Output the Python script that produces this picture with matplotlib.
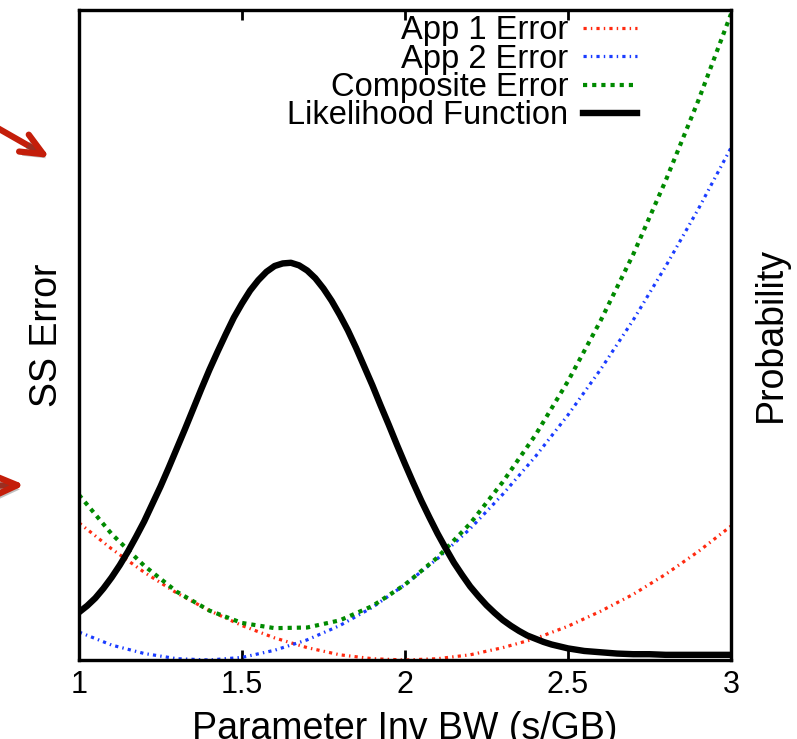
import numpy as np
import matplotlib
matplotlib.use("Agg")
import matplotlib.pyplot as plt
import matplotlib.patheffects as pe

# values (arbitrary units, 0..1 of the axis height)
x_err = [1.0, 1.1, 1.2, 1.3, 1.4, 1.5, 1.6, 1.7, 1.8, 1.9, 2.0,
         2.1, 2.2, 2.3, 2.4, 2.5, 2.6, 2.7, 2.8, 2.9, 3.0]
app1_err = [0.211, 0.171, 0.135, 0.103, 0.076, 0.053, 0.034, 0.019, 0.008, 0.002, 0.000,
            0.002, 0.008, 0.019, 0.033, 0.052, 0.075, 0.101, 0.132, 0.167, 0.206]
app2_err = [0.043, 0.023, 0.010, 0.002, 0.000, 0.004, 0.015, 0.031, 0.053, 0.081, 0.116,
            0.156, 0.202, 0.255, 0.313, 0.377, 0.447, 0.523, 0.606, 0.694, 0.788]
composite_err = [0.254, 0.194, 0.145, 0.105, 0.076, 0.057, 0.049, 0.050, 0.061, 0.083, 0.116,
                 0.158, 0.210, 0.274, 0.346, 0.429, 0.522, 0.624, 0.738, 0.861, 0.994]

x_lik = [1.000, 1.025, 1.050, 1.075, 1.100, 1.125, 1.150, 1.175, 1.200, 1.225,
         1.250, 1.275, 1.300, 1.325, 1.350, 1.375, 1.400, 1.425, 1.450, 1.475,
         1.500, 1.525, 1.550, 1.575, 1.600, 1.625, 1.650, 1.675, 1.700, 1.725,
         1.750, 1.775, 1.800, 1.825, 1.850, 1.875, 1.900, 1.925, 1.950, 1.975,
         2.000, 2.025, 2.050, 2.075, 2.100, 2.125, 2.150, 2.175, 2.200, 2.225,
         2.250, 2.275, 2.300, 2.325, 2.350, 2.375, 2.400, 2.425, 2.450, 2.475,
         2.500, 2.525, 2.550, 2.575, 2.600, 2.650, 2.700, 2.750, 2.800, 2.900, 3.000]
likelihood = [0.066, 0.076, 0.088, 0.103, 0.120, 0.139, 0.160, 0.183, 0.207, 0.234,
              0.261, 0.290, 0.320, 0.350, 0.381, 0.412, 0.442, 0.470, 0.497, 0.523,
              0.545, 0.565, 0.581, 0.594, 0.603, 0.607, 0.608, 0.604, 0.596, 0.584,
              0.568, 0.549, 0.527, 0.503, 0.476, 0.447, 0.418, 0.387, 0.357, 0.326,
              0.296, 0.267, 0.239, 0.213, 0.188, 0.165, 0.143, 0.124, 0.106, 0.091,
              0.077, 0.065, 0.054, 0.045, 0.037, 0.030, 0.025, 0.020, 0.016, 0.013,
              0.010, 0.008, 0.006, 0.005, 0.004, 0.002, 0.001, 0.001, 0.000, 0.000, 0.000]

xticks = [1, 1.5, 2, 2.5, 3]
xtick_labels = ["1", "1.5", "2", "2.5", "3"]

plt.rcParams['font.family'] = ['Liberation Sans', 'DejaVu Sans']

fig = plt.figure(figsize=(7.97, 7.39), dpi=100)
ax = fig.add_axes([79 / 797, 79 / 739, 652 / 797, 650 / 739])
ax2 = ax.twinx()

l1, = ax.plot(x_err, app1_err, color="#ff2a10", lw=2.3,
              linestyle=(0, (1, 1.3, 0.45, 1.3)), label="App 1 Error")
l2, = ax.plot(x_err, app2_err, color="#1a3cff", lw=2.3,
              linestyle=(0, (1, 1.3, 0.45, 1.3)), label="App 2 Error")
l3, = ax.plot(x_err, composite_err, color="#008a00", lw=3.0,
              linestyle=(0, (1, 1.2)), label="Composite Error")
l4, = ax2.plot(x_lik, likelihood, color="black", lw=4.6, label="Likelihood Function",
               solid_joinstyle="round")

ax.set_xlim(1, 3)
ax.set_ylim(0, 1)
ax2.set_ylim(-0.008, 1)
ax.set_yticks([])
ax2.set_yticks([])
ax.set_xticks(xticks)
ax.set_xticklabels(xtick_labels)
ax.tick_params(axis="x", direction="in", top=True, length=7, width=2, pad=7, labelsize=22)

for a in (ax, ax2):
    for s in a.spines.values():
        s.set_linewidth(2.3)

ax.set_xlabel("Parameter Inv BW (s/GB)", fontsize=27, labelpad=8)
ax.set_ylabel("SS Error", fontsize=27, labelpad=10)
ax2.set_ylabel("Probability", fontsize=27, labelpad=16)

ax2.legend(handles=[l1, l2, l3, l4], loc="upper right", bbox_to_anchor=(0.856, 0.992),
           markerfirst=False, frameon=False, fontsize=23.5, handlelength=1.65,
           handletextpad=0.45, labelspacing=-0.08, borderpad=0, borderaxespad=0)

# red pointer arrows on the left edge
arrow_color = "#c41e0a"
shadow = [pe.SimplePatchShadow(offset=(2, -3), alpha=0.35), pe.Normal()]
for start, tip in [((-20, 118), (50, 158)), ((-20, 486), (25, 485))]:
    ann = ax.annotate("", xy=(tip[0] / 797, 1 - tip[1] / 739),
                      xytext=(start[0] / 797, 1 - start[1] / 739),
                      xycoords="figure fraction", textcoords="figure fraction",
                      annotation_clip=False,
                      arrowprops=dict(arrowstyle="->,head_length=16,head_width=7",
                                      mutation_scale=1, color=arrow_color, lw=4.5,
                                      shrinkA=0, shrinkB=0))
    ann.arrow_patch.set_path_effects(shadow)

fig.savefig("out.png", dpi=100)
